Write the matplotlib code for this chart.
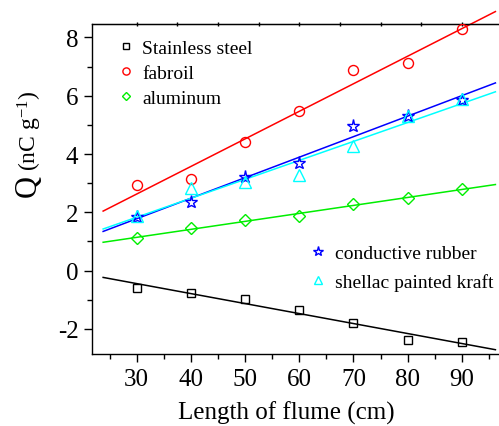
import numpy as np
import matplotlib
matplotlib.use("Agg")
import matplotlib.pyplot as plt
from matplotlib.lines import Line2D

plt.rcParams['font.family'] = ['Liberation Serif', 'DejaVu Serif']
plt.rcParams['mathtext.fontset'] = 'custom'
plt.rcParams['mathtext.rm'] = 'Liberation Serif'
plt.rcParams['mathtext.it'] = 'Liberation Serif:italic'
plt.rcParams['axes.unicode_minus'] = False

# ---- data ----
length_cm = [30, 40, 50, 60, 70, 80, 90]
stainless_steel = [-0.60, -0.77, -0.98, -1.34, -1.79, -2.37, -2.46]
fabroil = [2.94, 3.14, 4.40, 5.48, 6.89, 7.12, 8.28]
aluminum = [1.11, 1.46, 1.74, 1.86, 2.29, 2.48, 2.80]
conductive_rubber = [1.85, 2.36, 3.20, 3.69, 4.97, 5.31, 5.86]
shellac_kraft = [1.87, 2.82, 3.05, 3.28, 4.28, 5.29, 5.88]
fit_range = [23.8, 96.2]
x_ticks = [30, 40, 50, 60, 70, 80, 90]
y_ticks = [-2, 0, 2, 4, 6, 8]

W, H = 499, 427
fig = plt.figure(figsize=(W / 100, H / 100), dpi=100)
L, R, T, B = 92.3, 516, 25, 355
ax = fig.add_axes([L / W, (H - B) / H, (R - L) / W, (B - T) / H])

series = [
    ("Stainless steel", stainless_steel, 's', '#000000', 6.0),
    ("fabroil", fabroil, 'o', '#ff0000', 7.2),
    ("aluminum", aluminum, 'D', '#00ee00', 6.3),
    ("conductive rubber", conductive_rubber, '*', '#0000ff', 9.5),
    ("shellac painted kraft", shellac_kraft, '^', '#00ffff', 8.0),
]

x = np.array(length_cm, dtype=float)
handles = []
xf = np.array(fit_range)
for label, vals, mk, col, ms in series:
    y = np.array(vals)
    p = np.polyfit(x, y, 1)
    ax.plot(xf, np.polyval(p, xf), color=col, lw=1.1, clip_on=False, zorder=2)
    ax.plot(x, y, linestyle='none', marker=mk, ms=ms, mfc='none', mec=col,
            mew=1.0, zorder=3)
    handles.append(Line2D([], [], linestyle='none', marker=mk, ms=ms * 0.72,
                          mfc='none', mec=col, mew=1.0, label=label))

ax.set_xlim(21.8, 100)
ax.set_ylim(-2.86, 8.46)
ax.set_xticks(x_ticks)
ax.set_xticks(np.arange(25, 100, 5), minor=True)
ax.set_yticks(y_ticks)
ax.set_yticks(np.arange(-2, 9, 1), minor=True)
ax.tick_params(axis='both', which='major', direction='out', length=6, width=1.0,
               labelsize=18, pad=4)
ax.tick_params(axis='both', which='minor', direction='out', length=3.5, width=1.0)
ax.tick_params(top=False, right=False)
for s in ax.spines.values():
    s.set_linewidth(1.0)

sec = ax.secondary_xaxis('top')
sec.set_xticks(np.arange(30, 100, 7.5))
sec.tick_params(direction='inout', length=3, width=1.0, labeltop=False)
sec.set_xticklabels([])

leg1 = ax.legend(handles=handles[:3], loc='upper left',
                 bbox_to_anchor=(114 / W, (H - 40) / H), bbox_transform=fig.transFigure,
                 frameon=False, fontsize=14, handlelength=1.2, handletextpad=0.25,
                 borderpad=0, borderaxespad=0, labelspacing=0.38)
ax.add_artist(leg1)
ax.legend(handles=handles[3:], loc='upper left',
          bbox_to_anchor=(306 / W, (H - 245) / H), bbox_transform=fig.transFigure,
          frameon=False, fontsize=14, handlelength=1.2, handletextpad=0.3,
          borderpad=0, borderaxespad=0, labelspacing=0.58)

fig.text(286 / W, (H - 413) / H, "Length of flume (cm)", fontsize=18,
         ha='center', va='center')
fig.text(36 / W, (H - 197) / H, "Q", fontsize=22, rotation=90,
         rotation_mode='anchor', ha='left', va='baseline')
fig.text(36 / W, (H - 171) / H, r"(nC g$^{\mathregular{-1}}$)", fontsize=17,
         rotation=90, rotation_mode='anchor', ha='left', va='baseline')

fig.savefig("out.png", dpi=100)
